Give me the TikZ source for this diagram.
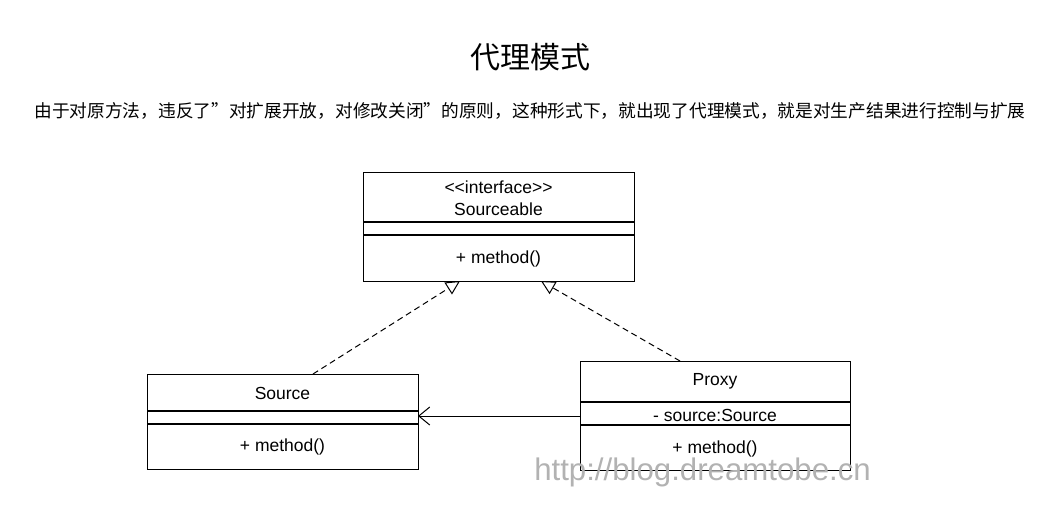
\documentclass[tikz,border=0pt]{standalone}
\usepackage{fontspec}
\setmainfont{Liberation Sans}
\newfontfamily\cjk{Noto Sans CJK SC}
\usetikzlibrary{arrows.meta}
\begin{document}
\begin{tikzpicture}[x=1pt,y=-1pt,
  box/.style={draw,line width=1.2pt,inner sep=0pt,anchor=north west},
  lbl/.style={font=\fontsize{17.5}{20}\selectfont,inner sep=0pt},
  div/.style={line width=1.2pt},
  realize/.style={line width=1pt,dash pattern=on 6pt off 4pt,-{Triangle[open,length=14pt,width=14pt,line width=1pt]}},
  assoc/.style={line width=1pt,-{Straight Barb[length=11pt,width=18pt,line width=1pt]}}]
\useasboundingbox[fill=white] (0,0) rectangle (1060,525);
% title and text
\node[font=\cjk\fontsize{30}{34}\selectfont] (title) at (530,57) {代理模式};
\node[font=\cjk\fontsize{17.7}{20}\selectfont] (desc) at (530,111) {由于对原方法，违反了”对扩展开放，对修改关闭”的原则，这种形式下，就出现了代理模式，就是对生产结果进行控制与扩展};
% interface
\node[box,minimum width=271pt,minimum height=109pt] (iface) at (363,172) {};
\draw[div] (363,222) -- (634,222);
\draw[div] (363,235) -- (634,235);
\node[lbl] (ifst) at (498.5,187) {<{}<interface>{}>};
\node[lbl] (ifname) at (498.5,209) {Sourceable};
\node[lbl] (ifm) at (498.5,259) {+ method()};
% Source
\node[box,minimum width=271pt,minimum height=95pt] (src) at (147,374) {};
\draw[div] (147,411) -- (418,411);
\draw[div] (147,424) -- (418,424);
\node[lbl] (srcname) at (282.5,393) {Source};
\node[lbl] (srcm) at (282.5,447) {+ method()};
% Proxy
\node[box,minimum width=270pt,minimum height=109pt] (prx) at (580,361) {};
\draw[div] (580,402) -- (850,402);
\draw[div] (580,425) -- (850,425);
\node[lbl] (prxname) at (715,381) {Proxy};
\node[lbl] (prxf) at (715,415) {- source:Source};
\node[lbl] (prxm) at (715,449) {+ method()};
% connectors
\coordinate (a1) at (313,374);
\coordinate (a2) at (460,281);
\coordinate (b1) at (680,361);
\coordinate (b2) at (541,281);
\coordinate (c1) at (580,416);
\coordinate (c2) at (418,416);
\draw[realize] (a1) -- (a2);
\draw[realize] (b1) -- (b2);
\draw[assoc] (c1) -- (c2);
% watermark
\node[font=\fontsize{31.2}{33}\selectfont,text=black!30] (wm) at (702.5,472) {http://blog.dreamtobe.cn};
\end{tikzpicture}
\end{document}
